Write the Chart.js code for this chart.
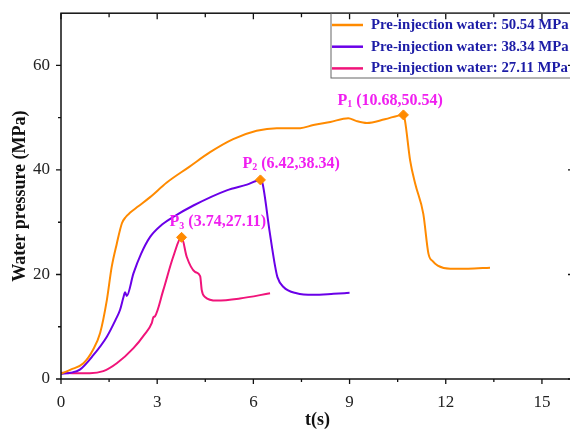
<!DOCTYPE html>
<html>
<head>
<meta charset="utf-8">
<script src="https://cdn.jsdelivr.net/npm/chart.js@4.4.1/dist/chart.umd.min.js"></script>
<style>
  html, body { margin: 0; padding: 0; background: #fff; overflow: hidden; }
  #wrap { width: 580px; height: 429px; }
</style>
</head>
<body>
<div id="wrap"><canvas id="chart" width="580" height="429"></canvas></div>
<script>
// series (t in s, pressure in MPa)
const orangeX = [0, 0.3, 0.7, 1.0, 1.22, 1.43, 1.58, 1.74, 1.9, 2.02, 2.15, 2.4, 2.78, 3.3, 4.0, 4.65, 5.37, 6.1, 6.73, 7.46, 7.87, 8.4, 8.96, 9.2, 9.54, 10.1, 10.68, 10.73, 10.89, 11.05, 11.3, 11.46, 11.6, 11.75, 12.14, 12.7, 13.38];
const orangeY = [1, 1.8, 3, 5.6, 8.8, 15.1, 21.4, 25.9, 29.8, 31.0, 31.8, 33.0, 34.8, 37.6, 40.6, 43.4, 45.9, 47.5, 48.0, 48.0, 48.6, 49.2, 49.9, 49.4, 49.0, 49.7, 50.54, 49.4, 41.8, 37.3, 31.6, 24.0, 22.5, 21.7, 21.1, 21.1, 21.3];

const purpleX = [0, 0.3, 0.59, 1.0, 1.43, 1.7, 1.84, 1.95, 2.0, 2.05, 2.26, 2.5, 2.78, 3.1, 3.5, 4.13, 5.17, 5.8, 6.22, 6.29, 6.5, 6.68, 6.75, 6.94, 7.35, 7.87, 8.5, 9.0];
const purpleY = [1, 1.2, 1.8, 4.5, 8.1, 11.3, 13.2, 15.7, 16.6, 15.9, 20.2, 24.0, 27.2, 29.3, 31.0, 33.2, 36.1, 37.2, 38.1, 37.3, 28.5, 21.5, 19.5, 17.6, 16.4, 16.1, 16.3, 16.5];

const pinkX = [0, 0.5, 0.9, 1.32, 1.74, 2.26, 2.6, 2.83, 2.88, 2.93, 3.19, 3.5, 3.76, 3.92, 4.18, 4.34, 4.39, 4.49, 4.86, 5.58, 6.52];
const pinkY = [1.2, 1.1, 1.1, 1.5, 3.0, 5.9, 8.5, 10.7, 11.8, 12.0, 17.0, 23.4, 27.11, 23.4, 20.5, 19.7, 17.0, 15.7, 15.0, 15.4, 16.4];

const seriesLabels = ['Pre-injection water: 50.54 MPa', 'Pre-injection water: 38.34 MPa', 'Pre-injection water: 27.11 MPa'];

// peak markers and their labels
const peakX = [10.68, 6.22, 3.76];
const peakY = [50.54, 38.1, 27.11];
const peakSub = ['1', '2', '3'];
const peakText = [' (10.68,50.54)', ' (6.42,38.34)', ' (3.74,27.11)'];

const xTicks = [0, 3, 6, 9, 12, 15];
const xMinor = [1.5, 4.5, 7.5, 10.5, 13.5];
const yTicks = [0, 20, 40, 60];
const yMinor = [10, 30, 50];

const colors = ['#ff8a00', '#6a00e8', '#f0147a'];
const serif = '"Liberation Serif", "Times New Roman", serif';

function toPoints(xs, ys) {
  return xs.map((x, i) => ({ x: x, y: ys[i] }));
}

// frame, inner/outer tick marks, peak labels and the boxed legend
const decorPlugin = {
  id: 'decor',
  afterDraw(chart) {
    const ctx = chart.ctx;
    const a = chart.chartArea;
    const xs = chart.scales.x, ys = chart.scales.y;
    ctx.save();
    ctx.strokeStyle = '#111';
    ctx.lineWidth = 1.5;
    ctx.strokeRect(a.left, a.top, a.right - a.left, a.bottom - a.top);

    ctx.lineWidth = 1.3;
    ctx.beginPath();
    xTicks.forEach(v => {
      const p = xs.getPixelForValue(v);
      ctx.moveTo(p, a.bottom); ctx.lineTo(p, a.bottom + 5);
      ctx.moveTo(p, a.top); ctx.lineTo(p, a.top + 6);
    });
    xMinor.forEach(v => {
      const p = xs.getPixelForValue(v);
      ctx.moveTo(p, a.bottom); ctx.lineTo(p, a.bottom + 3);
      ctx.moveTo(p, a.top); ctx.lineTo(p, a.top + 4);
    });
    yTicks.forEach(v => {
      const p = ys.getPixelForValue(v);
      ctx.moveTo(a.left, p); ctx.lineTo(a.left - 5, p);
      ctx.moveTo(a.right, p); ctx.lineTo(a.right - 6, p);
    });
    yMinor.forEach(v => {
      const p = ys.getPixelForValue(v);
      ctx.moveTo(a.left, p); ctx.lineTo(a.left - 3, p);
      ctx.moveTo(a.right, p); ctx.lineTo(a.right - 4, p);
    });
    ctx.stroke();

    // peak labels, offset from each marker
    const offs = [[-66, -14], [-18, -16], [-12, -15]];
    ctx.fillStyle = '#f01ff0';
    ctx.textBaseline = 'middle';
    peakX.forEach((v, i) => {
      let x = xs.getPixelForValue(v) + offs[i][0];
      const y = ys.getPixelForValue(peakY[i]) + offs[i][1];
      ctx.font = 'bold 16px ' + serif;
      ctx.fillText('P', x, y);
      x += ctx.measureText('P').width;
      ctx.font = 'bold 10px ' + serif;
      ctx.fillText(peakSub[i], x, y + 4);
      x += ctx.measureText(peakSub[i]).width;
      ctx.font = 'bold 16px ' + serif;
      ctx.fillText(peakText[i], x, y);
    });

    // legend box
    const lx = 331, ly = 13, rowH = 21.7;
    ctx.strokeStyle = '#666';
    ctx.lineWidth = 1;
    ctx.strokeRect(lx, ly, 260, 65);
    ctx.font = 'bold 14.8px ' + serif;
    seriesLabels.forEach((t, i) => {
      const y = ly + 12 + i * rowH;
      ctx.strokeStyle = colors[i];
      ctx.lineWidth = 2.5;
      ctx.beginPath();
      ctx.moveTo(lx + 1, y); ctx.lineTo(lx + 32, y);
      ctx.stroke();
      ctx.fillStyle = '#1c1ca6';
      ctx.fillText(t, lx + 40, y);
    });
    ctx.restore();
  }
};

const lineStyle = {
  pointRadius: 0,
  borderWidth: 2,
  fill: false,
  cubicInterpolationMode: 'monotone'
};

new Chart(document.getElementById('chart'), {
  type: 'line',
  data: {
    datasets: [
      Object.assign({ label: seriesLabels[2], data: toPoints(pinkX, pinkY), borderColor: colors[2], order: 3 }, lineStyle),
      Object.assign({ label: seriesLabels[1], data: toPoints(purpleX, purpleY), borderColor: colors[1], order: 2 }, lineStyle),
      Object.assign({ label: seriesLabels[0], data: toPoints(orangeX, orangeY), borderColor: colors[0], order: 1 }, lineStyle),
      {
        type: 'scatter',
        label: 'peaks',
        order: 0,
        data: toPoints(peakX, peakY),
        pointStyle: 'rectRot',
        pointRadius: 5,
        backgroundColor: colors[0],
        borderColor: colors[0],
        borderWidth: 1
      }
    ]
  },
  options: {
    responsive: false,
    animation: false,
    layout: { padding: { top: 6, right: 6, bottom: 0, left: 0 } },
    plugins: {
      legend: { display: false },
      tooltip: { enabled: false }
    },
    scales: {
      x: {
        type: 'linear',
        min: 0,
        max: 16,
        afterBuildTicks: scale => { scale.ticks = xTicks.map(v => ({ value: v })); },
        afterFit: scale => { scale.height = 50; },
        grid: { display: false },
        border: { display: false },
        ticks: { padding: 5, color: '#222', font: { family: serif, size: 17 } },
        title: {
          display: true,
          text: 't(s)',
          color: '#111',
          font: { family: serif, size: 18, weight: 'bold', lineHeight: 1.0 },
          padding: { top: 0, bottom: 0 }
        }
      },
      y: {
        min: 0,
        max: 70,
        afterBuildTicks: scale => { scale.ticks = yTicks.map(v => ({ value: v })); },
        afterFit: scale => { scale.width = 61; },
        grid: { display: false },
        border: { display: false },
        ticks: { padding: 3, color: '#222', font: { family: serif, size: 17 } },
        title: {
          display: true,
          text: 'Water pressure (MPa)',
          color: '#111',
          font: { family: serif, size: 18, weight: 'bold' },
          padding: { top: 10, bottom: 0 }
        }
      }
    }
  },
  plugins: [decorPlugin]
});
</script>
</body>
</html>
